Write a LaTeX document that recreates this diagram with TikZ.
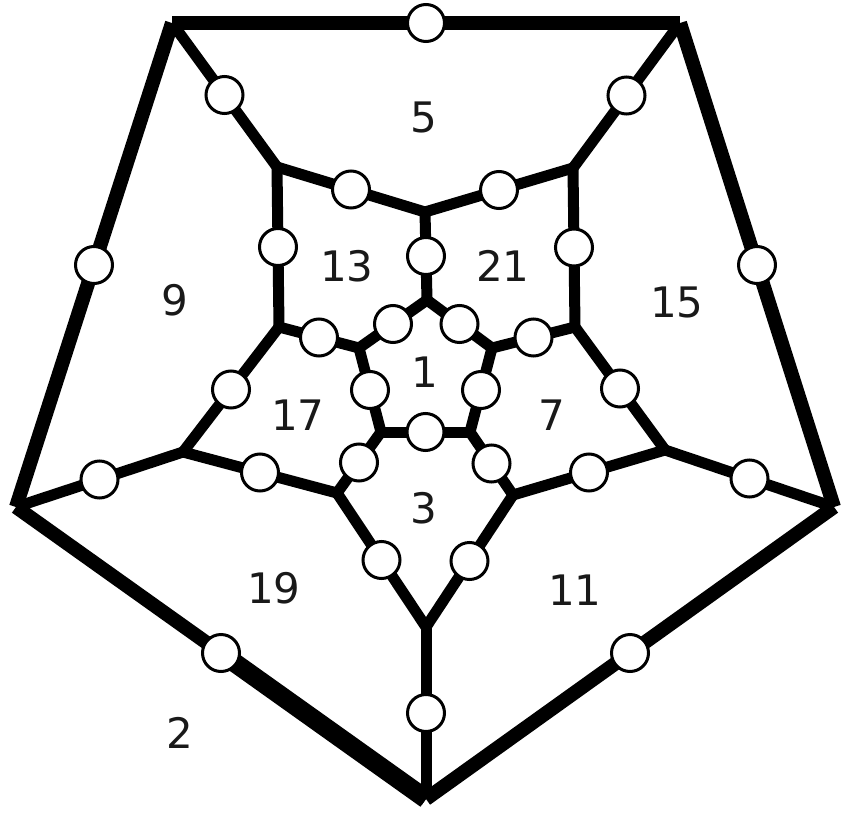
\documentclass[tikz,border=0pt]{standalone}
\usepackage{fontspec}
\setmainfont{DejaVu Sans}
\usepackage{tikz}
\usetikzlibrary{calc}

\begin{document}
\begin{tikzpicture}[
    x=1pt, y=-1pt,
    rim/.style={line width=14pt, line join=miter},
    edge/.style={line width=11pt, line join=miter},
    dot/.style={circle, draw, fill=white, line width=3pt, minimum size=37pt, inner sep=0pt},
    face/.style={font=\fontsize{42}{50}\selectfont, text=black!90}
]
\useasboundingbox (0,0) rectangle (846,816);

% outer pentagon
\coordinate (oTL) at (172,23);
\coordinate (oTR) at (680,23);
\coordinate (oR) at (834,507);
\coordinate (oB) at (426,799);
\coordinate (oL) at (16,507);

% middle ring
\coordinate (m1) at (277,167);
\coordinate (m2) at (425,212);
\coordinate (m3) at (573,168);
\coordinate (m4) at (575,327);
\coordinate (m5) at (665,450);
\coordinate (m6) at (513,495);
\coordinate (m7) at (426,627);
\coordinate (m8) at (337,493);
\coordinate (m9) at (183,452);
\coordinate (m10) at (279,327);

% inner pentagon
\coordinate (i1) at (427,300);
\coordinate (i2) at (492,348);
\coordinate (i3) at (470,432);
\coordinate (i4) at (381,432);
\coordinate (i5) at (359,348);

% heavier stroke on the lower left rim
\draw[line width=19pt] ($(oL)!0.5!(oB)$) -- (oB);

\draw[rim] (oTL) -- node[dot] (eT) {} (oTR);
\draw[rim] (oTR) -- node[dot] (eR) {} (oR);
\draw[rim] (oR) -- node[dot] (eBR) {} (oB);
\draw[rim] (oB) -- node[dot] (eBL) {} (oL);
\draw[rim] (oL) -- node[dot] (eL) {} (oTL);

\draw[edge] (oTL) -- node[dot] (s1) {} (m1);
\draw[edge] (oTR) -- node[dot] (s2) {} (m3);
\draw[edge] (oR) -- node[dot] (s3) {} (m5);
\draw[edge] (oB) -- node[dot] (s4) {} (m7);
\draw[edge] (oL) -- node[dot] (s5) {} (m9);

\draw[edge] (m1) -- node[dot] (r1) {} (m2);
\draw[edge] (m2) -- node[dot] (r2) {} (m3);
\draw[edge] (m3) -- node[dot] (r3) {} (m4);
\draw[edge] (m4) -- node[dot] (r4) {} (m5);
\draw[edge] (m5) -- node[dot] (r5) {} (m6);
\draw[edge] (m6) -- node[dot] (r6) {} (m7);
\draw[edge] (m7) -- node[dot] (r7) {} (m8);
\draw[edge] (m8) -- node[dot] (r8) {} (m9);
\draw[edge] (m9) -- node[dot] (r9) {} (m10);
\draw[edge] (m10) -- node[dot] (r10) {} (m1);

\draw[edge] (i1) -- node[dot] (t1) {} (m2);
\draw[edge] (i2) -- node[dot] (t2) {} (m4);
\draw[edge] (i3) -- node[dot] (t3) {} (m6);
\draw[edge] (i4) -- node[dot] (t4) {} (m8);
\draw[edge] (i5) -- node[dot] (t5) {} (m10);

\draw[edge] (i1) -- node[dot] (p1) {} (i2);
\draw[edge] (i2) -- node[dot] (p2) {} (i3);
\draw[edge] (i3) -- node[dot] (p3) {} (i4);
\draw[edge] (i4) -- node[dot] (p4) {} (i5);
\draw[edge] (i5) -- node[dot] (p5) {} (i1);

% face numbers
\node[face] (f1) at (425,372) {1};
\node[face] (f2) at (180,733) {2};
\node[face] (f3) at (424,508) {3};
\node[face] (f5) at (424,117) {5};
\node[face] (f7) at (552,415) {7};
\node[face] (f9) at (175,300) {9};
\node[face] (f11) at (575,590) {11};
\node[face] (f13) at (347,266) {13};
\node[face] (f15) at (677,302) {15};
\node[face] (f17) at (298,415) {17};
\node[face] (f19) at (274,588) {19};
\node[face] (f21) at (503,266) {21};
\end{tikzpicture}
\end{document}
